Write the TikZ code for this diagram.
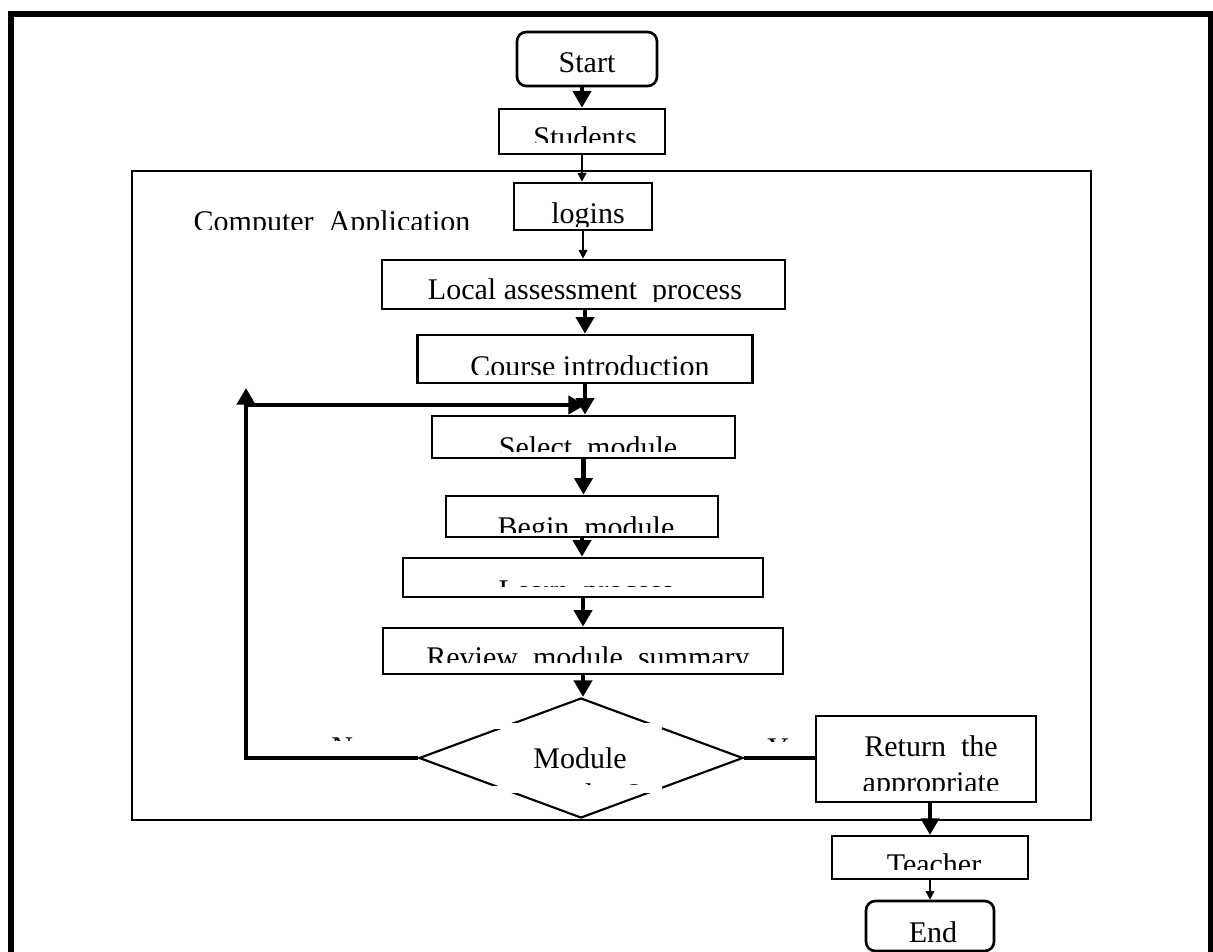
\documentclass[tikz,border=0pt]{standalone}
\usepackage{fontspec}
\setmainfont{Liberation Serif}
\usetikzlibrary{arrows.meta,shapes.geometric}

% text whose lower part is cut off at a given height
% #1 extra style, #2 name, #3 x, #4 baseline y, #5 cut y, #6 text
\newcommand\cliptxt[6][]{%
  \begin{scope}
    \clip (#3-450,0) rectangle (#3+450,#5);
    \node[txt,#1] (#2) at (#3,#4) {#6};
  \end{scope}}

\tikzset{
  wh/.style 2 args={minimum width=#1*0.75pt, minimum height=#2*0.75pt},
  box/.style={draw, rectangle, line width=2pt, inner sep=0pt},
  rbox/.style={box, rounded corners=7pt},
  txt/.style={font=\fontsize{22.5}{27}\selectfont, inner sep=0pt, anchor=base},
  bigarrow/.style={line width=3.2pt, -{Triangle[length=12.5pt, width=13.5pt]}},
  smallarrow/.style={line width=1.4pt, -{Triangle[length=6.5pt, width=6.5pt]}},
  bigline/.style={line width=3.6pt},
}

\begin{document}
\begin{tikzpicture}[x=0.75pt, y=-0.75pt]
\useasboundingbox (0,0) rectangle (1213,952);
\clip (0,0) rectangle (1213,952);

% page frame
\draw[line width=4.5pt] (10.5,980) -- (10.5,14) -- (1210.5,14) -- (1210.5,980);

% application area
\draw[line width=1.5pt] (132,171) rectangle (1091,820);

% flow boxes
\node[rbox, wh={140}{54}] (start) at (587,59) {};
\node[box, wh={166}{45}] (students) at (582,131.5) {};
\node[box, wh={138}{47}] (logins) at (583,206.5) {};
\node[box, wh={403}{49}] (local) at (583.5,284.5) {};
\node[box, wh={335}{48}] (course) at (585,359) {};
\node[box, wh={303}{42}] (select) at (583.5,437) {};
\node[box, wh={272}{41}] (begin) at (582,516.5) {};
\node[box, wh={360}{39}] (learn) at (583,577.5) {};
\node[box, wh={400}{46}] (review) at (583,651) {};
\node[draw, diamond, line width=1.6pt, inner sep=0pt, wh={324}{120}] (decide) at (581,758) {};
\node[box, wh={220}{86}] (return) at (926,759) {};
\node[box, line width=1.6pt, wh={196}{43}] (teacher) at (930,857.5) {};
\node[rbox, wh={128}{50}] (end) at (930,926) {};

% white edges of the decision label frame
\fill[white] (493,723) rectangle (662,729);
\fill[white] (493,786) rectangle (662,793);

% loop back coordinates
\coordinate (looptop) at (246,388);
\coordinate (loopin) at (246,405);

% connectors
\draw[bigarrow] (start.south -| students.north) -- (students.north);
\draw[smallarrow] (students.south) -- (students.south |- logins.north);
\draw[smallarrow] (logins.south) -- (logins.south |- local.north);
\draw[bigarrow] (local.south -| course.north) -- (course.north);
\draw[bigarrow] (course.south) -- (course.south |- select.north);
\draw[bigarrow] (select.south) -- (select.south |- begin.north);
\draw[bigarrow] (begin.south) -- (begin.south |- learn.north);
\draw[bigarrow] (learn.south) -- (learn.south |- review.north);
\draw[bigarrow] (review.south) -- (review.south |- decide.north);
\draw[bigarrow] (decide.west) -| (looptop);
\draw[bigarrow] (loopin) -- (loopin -| course.south);
\draw[bigline] (decide.east) -- (decide.east -| return.west);
\draw[bigarrow] (return.south -| teacher.north) -- (teacher.north);
\draw[smallarrow] (teacher.south) -- (teacher.south |- end.north);

% labels
\node[txt] (start-t) at (587,73) {Start};
\cliptxt{students-t}{585}{148}{143}{Students}
\cliptxt{logins-t}{588}{224}{227}{logins}
\cliptxt{app-t}{332}{232}{229.5}{Computer\ \ Application}
\cliptxt{local-t}{585}{299}{301}{Local assessment\ \ process}
\cliptxt{course-t}{590}{376}{374}{Course introduction}
\cliptxt{select-t}{588}{457}{451}{Select\ \ module}
\cliptxt{begin-t}{586}{537}{532}{Begin\ \ module}
\cliptxt{learn-t}{586}{600}{586}{Learn\ \ process}
\cliptxt{review-t}{588}{667}{662}{Review\ \ module\ \ summary}
\cliptxt[anchor=base west]{no-t}{331}{757}{740}{No}
\cliptxt[anchor=base west]{yes-t}{767}{758}{741}{Yes}
\node[txt] (module-t) at (580,768) {Module};
\cliptxt{complete-t}{580}{804}{784.5}{complete?}
\node[txt] (return-t) at (931,756) {Return\ \ the};
\cliptxt{appropriate-t}{931}{792}{790}{appropriate}
\cliptxt{teacher-t}{934}{874}{869}{Teacher}
\node[txt] (end-t) at (933,942) {End};
\end{tikzpicture}
\end{document}
